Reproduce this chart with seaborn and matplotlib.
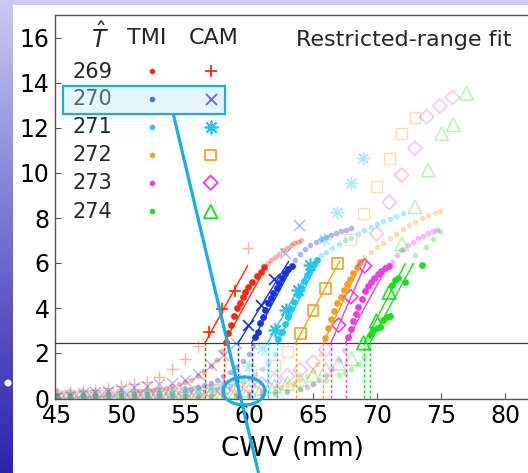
import numpy as np
import pandas as pd
import matplotlib
matplotlib.use("Agg")
import matplotlib.pyplot as plt
import seaborn as sns
from matplotlib.patches import Rectangle, Ellipse, Circle
from matplotlib.colors import LinearSegmentedColormap

# ---------------- data ----------------
T_HAT = [269, 270, 271, 272, 273, 274]
COLORS = ["#FF2A0A", "#1733E3", "#22C6F2", "#F7A11B", "#F23CE6", "#1BE01B"]
THRESHOLD = 2.45

# 269
tmi269_fit_x = [58.18, 58.33, 58.59, 58.85, 59.04, 59.30, 59.56, 59.69, 59.95, 60.26, 60.60, 60.91, 61.20]
tmi269_fit_y = [2.50, 2.87, 3.24, 3.64, 3.98, 4.20, 4.47, 4.73, 4.95, 5.17, 5.42, 5.62, 5.81]
tmi269_x = [45, 46, 47, 48, 49, 50, 51, 51.5, 52, 52.5, 53, 53.5, 54, 54.5, 55, 55.5, 56, 56.5, 57, 57.5, 57.9,
            61.45, 61.75, 62.05, 62.35, 62.65, 62.95, 63.25, 63.55, 63.85, 64.1]
tmi269_y = [0.12, 0.13, 0.15, 0.17, 0.20, 0.24, 0.28, 0.30, 0.33, 0.37, 0.41, 0.46, 0.52, 0.60, 0.70, 0.82, 0.97, 1.15, 1.40, 1.70, 2.10,
            5.98, 6.12, 6.28, 6.42, 6.56, 6.68, 6.78, 6.87, 6.95, 7.02]
cam269_fit_x = [56.9, 57.9, 58.9]
cam269_fit_y = [2.95, 3.96, 4.77]
cam269_x = [45, 46, 47, 48, 49, 50, 51, 52, 53, 54, 55, 56, 59.9]
cam269_y = [0.20, 0.25, 0.30, 0.36, 0.44, 0.53, 0.62, 0.73, 0.95, 1.30, 1.75, 2.29, 6.67]

# 270
tmi270_fit_x = [60.47, 60.68, 60.86, 61.12, 61.25, 61.51, 61.72, 61.90, 62.16, 62.34, 62.55, 62.81, 63.07, 63.33]
tmi270_fit_y = [2.73, 2.95, 3.32, 3.61, 3.91, 4.21, 4.43, 4.65, 4.87, 5.10, 5.32, 5.54, 5.72, 5.87]
tmi270_x = [45, 46, 47, 48, 49, 50, 51, 52, 53, 54, 55, 55.5, 56, 56.5, 57, 57.5, 58, 58.5, 59, 59.5, 60.0, 60.3,
            63.6, 64.0, 64.4, 64.8, 65.2, 65.6, 66.0, 66.4, 66.8, 67.2, 67.6, 68.0]
tmi270_y = [0.08, 0.09, 0.10, 0.11, 0.12, 0.14, 0.16, 0.19, 0.23, 0.28, 0.35, 0.40, 0.47, 0.56, 0.67, 0.80, 0.96, 1.15, 1.38, 1.65, 1.97, 2.30,
            6.15, 6.40, 6.60, 6.78, 6.93, 7.05, 7.15, 7.25, 7.34, 7.42, 7.48, 7.54]
cam270_fit_x = [59.9, 60.95, 61.95]
cam270_fit_y = [3.24, 4.13, 5.30]
cam270_x = [45, 46, 47, 48, 49, 50, 51, 52, 53, 54, 55, 56, 57, 58, 59, 62.85, 63.9]
cam270_y = [0.10, 0.15, 0.20, 0.27, 0.33, 0.40, 0.47, 0.55, 0.60, 0.68, 0.82, 1.08, 1.45, 1.90, 2.43, 6.44, 7.70]

# 271
tmi271_fit_x = [62.30, 62.55, 62.80, 63.05, 63.30, 63.55, 63.80, 64.05, 64.30, 64.55, 64.80, 65.05, 65.30]
tmi271_fit_y = [2.60, 2.95, 3.30, 3.62, 3.95, 4.28, 4.58, 4.88, 5.18, 5.45, 5.70, 5.95, 6.15]
tmi271_x = [45, 46, 47, 48, 49, 50, 51, 52, 53, 54, 55, 56, 57, 57.5, 58, 58.5, 59, 59.5, 60, 60.5, 61, 61.5, 62.0,
            65.6, 66.0, 66.5, 67.0, 67.5, 68.0, 68.5, 69.0, 69.5, 70.0, 70.5, 71.0, 71.5, 72.0]
tmi271_y = [0.05, 0.06, 0.07, 0.08, 0.09, 0.10, 0.11, 0.13, 0.15, 0.18, 0.22, 0.27, 0.34, 0.39, 0.45, 0.53, 0.62, 0.74, 0.88, 1.05, 1.27, 1.55, 1.95,
            6.35, 6.50, 6.68, 6.85, 7.00, 7.12, 7.28, 7.45, 7.60, 7.73, 7.85, 7.97, 8.08, 8.20]
cam271_fit_x = [62.0, 62.9, 63.8, 64.75]
cam271_fit_y = [3.0, 3.9, 4.8, 5.9]
cam271_x = [45, 46, 47, 48, 49, 50, 51, 52, 53, 54, 55, 56, 57, 58, 59, 60, 61, 65.85, 66.9, 68.0, 68.9]
cam271_y = [0.05, 0.06, 0.07, 0.08, 0.10, 0.12, 0.14, 0.16, 0.19, 0.22, 0.27, 0.34, 0.45, 0.62, 0.90, 1.40, 2.20, 7.05, 8.25, 9.54, 10.65]

# 272
tmi272_fit_x = [65.90, 66.15, 66.40, 66.65, 66.90, 67.15, 67.40, 67.65, 67.90, 68.15, 68.40, 68.70]
tmi272_fit_y = [2.65, 3.10, 3.50, 3.85, 4.20, 4.50, 4.80, 5.05, 5.30, 5.55, 5.80, 6.05]
tmi272_x = [45, 46, 47, 48, 49, 50, 51, 52, 53, 54, 55, 56, 57, 58, 59, 60, 61, 62, 62.5, 63, 63.5, 64, 64.5, 65, 65.3, 65.6,
            69.0, 69.5, 70.0, 70.5, 71.0, 71.5, 72.0, 72.5, 73.0, 73.5, 74.0, 74.5, 74.9]
tmi272_y = [0.04, 0.05, 0.05, 0.06, 0.07, 0.08, 0.09, 0.10, 0.11, 0.12, 0.13, 0.14, 0.17, 0.20, 0.24, 0.29, 0.35, 0.43, 0.50, 0.58, 0.68, 0.80, 0.97, 1.20, 1.50, 1.95,
            6.25, 6.50, 6.70, 6.90, 7.10, 7.30, 7.50, 7.68, 7.84, 7.98, 8.12, 8.22, 8.30]
cam272_fit_x = [64.0, 65.0, 65.95, 66.95]
cam272_fit_y = [2.85, 3.88, 4.87, 5.98]
cam272_x = [45, 46, 47, 48, 49, 50, 51, 52, 53, 54, 55, 56, 57, 58, 59, 60, 61, 62, 63,
            67.95, 68.93, 69.97, 71.0, 71.95, 72.97]
cam272_y = [0.10, 0.10, 0.11, 0.12, 0.13, 0.14, 0.15, 0.17, 0.19, 0.22, 0.25, 0.30, 0.36, 0.45, 0.58, 0.78, 1.05, 1.45, 2.05,
            7.05, 8.22, 9.40, 10.65, 11.76, 12.45]

# 273
tmi273_fit_x = [67.76, 67.95, 68.15, 68.35, 68.55, 68.80, 69.05, 69.30, 69.55, 69.80, 70.05, 70.30, 70.60, 70.90]
tmi273_fit_y = [2.73, 3.05, 3.40, 3.72, 4.05, 4.40, 4.75, 4.98, 5.17, 5.34, 5.50, 5.64, 5.76, 5.87]
tmi273_x = [45, 46, 47, 48, 49, 50, 51, 52, 53, 54, 55, 56, 57, 58, 59, 60, 61, 62, 63, 64, 64.5, 65, 65.5, 66, 66.5, 67, 67.4,
            71.2, 71.6, 72.0, 72.4, 72.8, 73.2, 73.6, 74.0, 74.4, 74.7]
tmi273_y = [0.03, 0.03, 0.04, 0.04, 0.05, 0.05, 0.06, 0.06, 0.07, 0.08, 0.08, 0.09, 0.10, 0.12, 0.14, 0.17, 0.20, 0.25, 0.32, 0.42, 0.50, 0.60, 0.78, 1.00, 1.30, 1.70, 2.15,
            6.05, 6.35, 6.60, 6.80, 6.95, 7.10, 7.22, 7.32, 7.42, 7.48]
cam273_fit_x = [67.0, 67.95, 69.03]
cam273_fit_y = [3.24, 4.50, 5.87]
cam273_x = [45, 46, 47, 48, 49, 50, 51, 52, 53, 54, 55, 56, 57, 58, 59, 60, 61, 62, 63, 64, 65, 66,
            69.97, 70.96, 71.93, 72.97, 73.88, 74.92, 75.9]
cam273_y = [0.08, 0.09, 0.10, 0.11, 0.12, 0.13, 0.14, 0.15, 0.17, 0.19, 0.21, 0.24, 0.28, 0.33, 0.40, 0.50, 0.62, 0.78, 0.98, 1.25, 1.60, 2.15,
            7.30, 8.70, 9.91, 11.10, 12.50, 12.98, 13.36]

# 274
tmi274_fit_x = [69.45, 69.71, 69.97, 70.23, 70.49, 70.75, 71.00, 71.14, 71.40, 71.66, 72.18, 73.48]
tmi274_fit_y = [2.80, 3.02, 3.10, 3.17, 3.47, 3.59, 3.64, 5.02, 5.24, 5.32, 5.17, 5.91]
tmi274_x = [45, 46, 47, 48, 49, 50, 51, 52, 53, 54, 55, 56, 57, 58, 59, 60, 61, 62, 63, 64, 65, 66, 67, 67.5, 68, 68.5, 69, 69.3,
            71.9, 73.0, 73.8, 74.4, 74.95]
tmi274_y = [0.01, 0.01, 0.02, 0.02, 0.02, 0.03, 0.03, 0.04, 0.04, 0.05, 0.05, 0.06, 0.07, 0.08, 0.09, 0.10, 0.13, 0.18, 0.28, 0.42, 0.60, 0.80, 1.00, 1.12, 1.28, 1.50, 1.80, 2.20,
            6.58, 6.36, 6.70, 7.05, 7.40]
cam274_fit_x = [68.95, 69.95, 70.95]
cam274_fit_y = [2.45, 3.42, 4.70]
cam274_x = [45, 46, 47, 48, 49, 50, 51, 52, 53, 54, 55, 56, 57, 58, 59, 60, 61, 62, 63, 64, 65, 66, 67, 68,
            71.95, 72.97, 74.0, 75.05, 75.96, 77.0]
cam274_y = [0.05, 0.05, 0.06, 0.06, 0.07, 0.08, 0.09, 0.10, 0.11, 0.13, 0.15, 0.17, 0.20, 0.24, 0.29, 0.35, 0.43, 0.53, 0.66, 0.82, 1.02, 1.28, 1.55, 1.75,
            6.85, 8.50, 10.13, 11.76, 12.15, 13.55]

# restricted-range fit results (threshold crossing, slope, end of fit range)
fit_x0_tmi = [58.05, 60.20, 62.20, 65.80, 67.55, 69.45]
fit_slope_tmi = [1.03, 1.07, 1.13, 1.20, 1.05, 1.04]
fit_xend_tmi = [61.35, 63.45, 65.30, 68.80, 70.90, 72.85]
fit_x0_cam = [56.56, 59.16, 61.45, 63.65, 66.40, 69.00]
fit_slope_cam = [1.03, 0.92, 1.00, 1.06, 1.30, 1.10]
fit_xend_cam = [59.90, 63.10, 65.00, 67.10, 69.20, 72.20]

x_ticks = [45, 50, 55, 60, 65, 70, 75, 80]
y_ticks = [0, 2, 4, 6, 8, 10, 12, 14, 16]

TMI_BOLD = [(tmi269_fit_x, tmi269_fit_y), (tmi270_fit_x, tmi270_fit_y), (tmi271_fit_x, tmi271_fit_y),
            (tmi272_fit_x, tmi272_fit_y), (tmi273_fit_x, tmi273_fit_y), (tmi274_fit_x, tmi274_fit_y)]
TMI_FADED = [(tmi269_x, tmi269_y), (tmi270_x, tmi270_y), (tmi271_x, tmi271_y),
             (tmi272_x, tmi272_y), (tmi273_x, tmi273_y), (tmi274_x, tmi274_y)]
CAM_BOLD = [(cam269_fit_x, cam269_fit_y), (cam270_fit_x, cam270_fit_y), (cam271_fit_x, cam271_fit_y),
            (cam272_fit_x, cam272_fit_y), (cam273_fit_x, cam273_fit_y), (cam274_fit_x, cam274_fit_y)]
CAM_FADED = [(cam269_x, cam269_y), (cam270_x, cam270_y), (cam271_x, cam271_y),
             (cam272_x, cam272_y), (cam273_x, cam273_y), (cam274_x, cam274_y)]

# ---------------- styling ----------------
CAM_MARKERS = ["+", "x", (8, 2, 0), "s", "D", "^"]
CAM_SIZES = [80, 62, 80, 62, 52, 95]
CAM_FILLED = [False, False, False, True, True, True]

sns.set_style("ticks")
plt.rcParams["font.family"] = ["DejaVu Sans"]

W, H = 528, 473
fig = plt.figure(figsize=(W / 100, H / 100), dpi=100)

# slide background
bg = fig.add_axes([0, 0, 1, 1], zorder=0)
cmap = LinearSegmentedColormap.from_list("bg", ["#CBCBF3", "#9090DA", "#5A54C2", "#2C24A8"])
bg.imshow(np.linspace(0, 1, 256)[:, None], aspect="auto", cmap=cmap, extent=[0, W, H, 0])
bg.set_xlim(0, W)
bg.set_ylim(H, 0)
bg.axis("off")
bg.add_patch(Rectangle((13, 5), W - 13, H - 5, facecolor="white", edgecolor="none"))
bg.add_patch(Circle((8, 383), 3.5, facecolor="white", edgecolor="none"))

# main axes (pixel geometry)
AX_L, AX_R, AX_T, AX_B = 55, 528, 15.05, 398.9
ax = fig.add_axes([AX_L / W, (H - AX_B) / H, (AX_R - AX_L) / W, (AX_B - AX_T) / H], zorder=2)
ax.patch.set_alpha(0)
ax.set_xlim(44.84, 81.8)
ax.set_ylim(-0.04, 17.02)


def scat(x, y, color, marker, size, alpha, filled, lw, z):
    if marker in ("+", "x") or isinstance(marker, tuple):
        sns.scatterplot(x=x, y=y, color=color, marker=marker, s=size, alpha=alpha,
                        linewidth=lw, ax=ax, zorder=z, legend=False)
    elif filled:
        sns.scatterplot(x=x, y=y, marker=marker, s=size, alpha=alpha, facecolor="none",
                        edgecolor=color, linewidth=lw, ax=ax, zorder=z, legend=False)
    else:
        sns.scatterplot(x=x, y=y, color=color, marker=marker, s=size, alpha=alpha,
                        linewidth=0, ax=ax, zorder=z, legend=False)


for i, c in enumerate(COLORS):
    fx, fy = TMI_FADED[i]
    scat(fx, fy, c, "o", 16, 0.35, False, 0, 2)
    cx, cy = CAM_FADED[i]
    scat(cx, cy, c, CAM_MARKERS[i], CAM_SIZES[i], 0.35, CAM_FILLED[i], 1.0, 2)

ax.axhline(THRESHOLD, color="#3A3A3A", lw=0.9, zorder=3)

for i, c in enumerate(COLORS):
    ax.vlines([fit_x0_tmi[i], fit_x0_cam[i]], 0, THRESHOLD, colors=c, linestyles=(0, (2.2, 1.6)),
              lw=1.0, zorder=3)
    bx, by = TMI_BOLD[i]
    scat(bx, by, c, "o", 24, 1.0, False, 0, 4)
    cx, cy = CAM_BOLD[i]
    scat(cx, cy, c, CAM_MARKERS[i], CAM_SIZES[i], 1.0, CAM_FILLED[i], 1.2, 4)
    for x0, sl, xe in ((fit_x0_tmi[i], fit_slope_tmi[i], fit_xend_tmi[i]),
                       (fit_x0_cam[i], fit_slope_cam[i], fit_xend_cam[i])):
        lx = [x0, xe]
        ly = [THRESHOLD, THRESHOLD + sl * (xe - x0)]
        sns.lineplot(x=lx, y=ly, color=c, lw=1.0, ax=ax, zorder=5, legend=False)

ax.set_xticks(x_ticks)
ax.set_yticks(y_ticks)
ax.set_xticklabels([str(v) for v in x_ticks])
ax.set_yticklabels([str(v) for v in y_ticks])
ax.tick_params(direction="in", length=4, width=0.8, color="#555555", labelsize=17, pad=4,
               labelcolor="black")
for side in ("left", "bottom", "top"):
    ax.spines[side].set_color("#555555")
    ax.spines[side].set_linewidth(1.0)
ax.spines["right"].set_visible(False)
ax.set_xlabel("CWV (mm)", fontsize=19, color="black")
ax.xaxis.label.set_va("center")
ax.xaxis.set_label_coords((292 - AX_L) / (AX_R - AX_L), (AX_B - 449) / (AX_B - AX_T))
ax.set_ylabel("")


def axp(px, py):
    return ((px - AX_L) / (AX_R - AX_L), (AX_B - py) / (AX_B - AX_T))


# legend block
ax.text(*axp(100, 38), r"$\hat{T}$", fontsize=17, ha="center", va="center", transform=ax.transAxes)
ax.text(*axp(146.5, 37.5), "TMI", fontsize=16, ha="center", va="center", transform=ax.transAxes)
ax.text(*axp(213.5, 37.5), "CAM", fontsize=16, ha="center", va="center", transform=ax.transAxes)
ax.text(*axp(404, 40), "Restricted-range fit", fontsize=16, ha="center", va="center", transform=ax.transAxes)
ROW_Y = [71.5, 99.3, 127.3, 155, 182.7, 211.5]
for i, (t, c) in enumerate(zip(T_HAT, COLORS)):
    ax.text(*axp(72.5, ROW_Y[i]), str(t), fontsize=15, ha="left", va="center", transform=ax.transAxes)
    ax.scatter(*axp(151.7, ROW_Y[i]), s=16, color=c, linewidth=0, transform=ax.transAxes,
               clip_on=False, zorder=6)
    m = CAM_MARKERS[i]
    if CAM_FILLED[i]:
        ax.scatter(*axp(210.7, ROW_Y[i]), s=CAM_SIZES[i], marker=m, facecolor="none", edgecolor=c,
                   linewidth=1.3, transform=ax.transAxes, clip_on=False, zorder=6)
    else:
        ax.scatter(*axp(210.7, ROW_Y[i]), s=CAM_SIZES[i], marker=m, color=c,
                   linewidth=1.3, transform=ax.transAxes, clip_on=False, zorder=6)

# slide annotation overlay
ov = fig.add_axes([0, 0, 1, 1], zorder=3)
ov.set_xlim(0, W)
ov.set_ylim(H, 0)
ov.axis("off")
ov.patch.set_alpha(0)
ACC = "#19ADE6"
ov.add_patch(Rectangle((63.3, 86), 161.7, 28, facecolor=(0.72, 0.88, 0.97, 0.35), edgecolor=ACC, lw=1.6))
ov.plot([173.3, 258.5], [114, 473], color=ACC, lw=2.3, solid_capstyle="butt")
ov.add_patch(Ellipse((244, 391), 42, 28, fill=False, edgecolor=ACC, lw=2.3))

fig.savefig("out.png", dpi=100)
